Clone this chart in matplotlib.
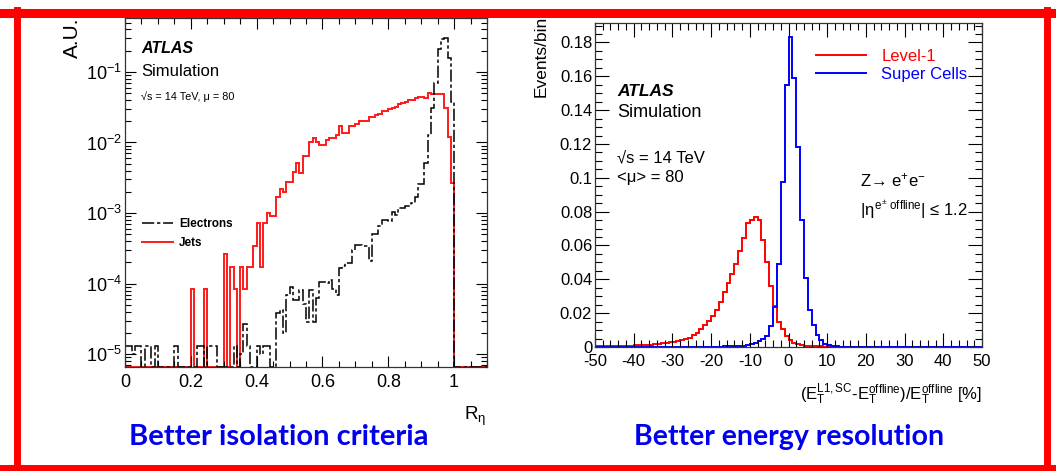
import numpy as np
import matplotlib
matplotlib.use('Agg')
import matplotlib.pyplot as plt
from matplotlib.lines import Line2D
from matplotlib.ticker import MultipleLocator, LogLocator, FuncFormatter, NullFormatter

plt.rcParams['font.family'] = ['Liberation Sans', 'DejaVu Sans']
plt.rcParams['mathtext.fontset'] = 'custom'
plt.rcParams['mathtext.rm'] = 'Liberation Sans'
plt.rcParams['mathtext.it'] = 'Liberation Sans'
plt.rcParams['mathtext.bf'] = 'Liberation Sans:bold'
plt.rcParams['axes.unicode_minus'] = False

# ---- left panel: R_eta, bins of 0.01 from 0 to 1.1 ----
r_edges = np.round(np.arange(0, 1.1001, 0.01), 3)
jets = [
    0, 0, 0, 0, 0, 0, 0, 0, 0, 0,
    0, 0, 0, 0, 0, 0, 0, 0, 0, 0,
    8.5e-5, 0, 0, 0, 8.5e-5, 0, 0, 0, 0, 0,
    2.6e-4, 0, 1.7e-4, 8.5e-5, 0, 1.7e-4, 8.5e-5, 1.7e-4, 1.7e-4, 3.4e-4,
    7.2e-4, 1.7e-4, 7.2e-4, 1.0e-3, 9.1e-4, 9.1e-4, 1.7e-3, 2.2e-3, 2.0e-3, 2.8e-3,
    2.8e-3, 3.8e-3, 5.1e-3, 3.7e-3, 6.5e-3, 6.5e-3, 1.02e-2, 1.17e-2, 1.02e-2, 9.1e-3,
    9.1e-3, 1.07e-2, 1.17e-2, 1.17e-2, 1.29e-2, 1.7e-2, 1.38e-2, 1.38e-2, 1.7e-2, 1.7e-2,
    1.82e-2, 2.04e-2, 2.04e-2, 2.04e-2, 2.29e-2, 2.29e-2, 2.45e-2, 2.57e-2, 2.82e-2, 2.82e-2,
    2.95e-2, 3.09e-2, 3.16e-2, 3.47e-2, 3.63e-2, 3.8e-2, 3.98e-2, 3.98e-2, 4.27e-2, 4.37e-2,
    4.47e-2, 4.27e-2, 5.0e-2, 4.8e-2, 4.9e-2, 4.9e-2, 4.8e-2, 3.1e-2, 1.2e-2, 2.7e-3,
    0, 0, 0, 0, 0, 0, 0, 0, 0, 0,
]
electrons = [
    1.3e-5, 1.3e-5, 1.0e-5, 1.3e-5, 1.3e-5, 0, 1.3e-5, 1.3e-5, 0, 1.3e-5,
    0, 0, 0, 0, 0, 1.3e-5, 0, 0, 0, 0,
    0, 0, 1.3e-5, 1.3e-5, 0, 1.3e-5, 1.3e-5, 1.3e-5, 0, 0,
    0, 0, 0, 1.3e-5, 0, 1.0e-5, 2.7e-5, 1.3e-5, 0, 0,
    1.3e-5, 1.0e-5, 1.3e-5, 1.3e-5, 0, 0, 3.8e-5, 4.2e-5, 2.0e-5, 6.9e-5,
    9.1e-5, 5.9e-5, 5.9e-5, 8.1e-5, 5.2e-5, 2.9e-5, 8.1e-5, 2.9e-5, 6.3e-5, 1.07e-4,
    1.07e-4, 1.02e-4, 1.12e-4, 8.5e-5, 6.9e-5, 1.66e-4, 1.78e-4, 1.95e-4, 1.95e-4, 3.0e-4,
    3.5e-4, 3.5e-4, 3.4e-4, 3.4e-4, 2.1e-4, 5.1e-4, 5.1e-4, 6.5e-4, 7.9e-4, 7.9e-4,
    7.6e-4, 1.05e-3, 9.5e-4, 1.17e-3, 1.17e-3, 1.26e-3, 1.26e-3, 1.41e-3, 1.7e-3, 2.6e-3,
    2.6e-3, 5.1e-3, 1.29e-2, 3.1e-2, 6.9e-2, 0.21, 0.295, 0.30, 0.158, 3.8e-2,
    0, 0, 0, 0, 0, 0, 0, 0, 0, 0,
]

# ---- right panel: (E_T - E_T offline)/E_T offline [%], 1% bins ----
e_edges = np.arange(-50, 51, 1)
level1 = [
    0.0003, 0.0003, 0.0004, 0.0004, 0.0005, 0.0005, 0.0006, 0.0007, 0.0008, 0.0008,
    0.0009, 0.0010, 0.0011, 0.0012, 0.0014, 0.0016, 0.0018, 0.0021, 0.0024, 0.0027,
    0.0031, 0.0035, 0.0039, 0.0045, 0.0055, 0.0069, 0.0085, 0.0105, 0.0128, 0.0152,
    0.0181, 0.0221, 0.0266, 0.0325, 0.038, 0.0434, 0.0489, 0.0568, 0.0647, 0.073,
    0.0753, 0.0769, 0.0753, 0.063, 0.050, 0.036, 0.024, 0.015, 0.0105, 0.0065,
    0.004, 0.0025, 0.0016, 0.001, 0.0007, 0.0005, 0.0004, 0.0003, 0.0003, 0.0002,
    0.0002, 0.00015, 0.0001, 0.0001, 0.0001, 0.0001, 0.0001, 0.0001, 0.0001, 0.0001,
    0.00005, 0.00005, 0.00005, 0.00005, 0.00005, 0.00005, 0.00005, 0.00005, 0.00005, 0.00005,
    0.00005, 0.00005, 0.00005, 0.00005, 0.00005, 0.00005, 0.00005, 0.00005, 0.00005, 0.00005,
    0.00005, 0.00005, 0.00005, 0.00005, 0.00005, 0.00005, 0.00005, 0.00005, 0.00005, 0.00005,
]
super_cells = [
    0, 0, 0, 0, 0, 0, 0, 0, 0, 0,
    0, 0, 0, 0, 0, 0.00005, 0.00005, 0.00005, 0.00005, 0.00005,
    0.00005, 0.00005, 0.00005, 0.00005, 0.00005, 0.0001, 0.0001, 0.0001, 0.00015, 0.00015,
    0.0002, 0.0002, 0.00025, 0.0003, 0.0003, 0.0004, 0.0005, 0.0006, 0.0008, 0.0011,
    0.0016, 0.0024, 0.0036, 0.0049, 0.0066, 0.0125, 0.0235, 0.049, 0.0976, 0.155,
    0.183, 0.159, 0.118, 0.075, 0.041, 0.022, 0.0128, 0.0069, 0.0039, 0.002,
    0.001, 0.0005, 0.0003, 0.0002, 0.0001, 0, 0, 0, 0, 0,
    0, 0, 0, 0, 0, 0, 0, 0, 0, 0,
    0, 0, 0, 0, 0, 0, 0, 0, 0, 0,
    0, 0, 0, 0, 0, 0, 0, 0, 0, 0,
]

W, H = 1056, 471
fig = plt.figure(figsize=(W / 100, H / 100), dpi=100)


def px_axes(l, t, r, b):
    return fig.add_axes([l / W, 1 - b / H, (r - l) / W, (b - t) / H])


def root_ticks(ax, major, minor, size):
    ax.tick_params(which='both', direction='in', top=True, right=True, labelsize=size)
    ax.tick_params(which='major', length=major, width=0.8)
    ax.tick_params(which='minor', length=minor, width=0.8)
    for s in ax.spines.values():
        s.set_linewidth(0.9)
        s.set_color('#333333')


fmt_g = FuncFormatter(lambda v, p: '%g' % v)
dash_e = (0, (8, 1.8, 2.2, 1.8))

# left panel
ax1 = px_axes(125, 18, 487, 367)
ymin1 = 6.6e-6
ax1.stairs(np.clip(jets, ymin1, None), r_edges, color='#ff1a1a', lw=1.4, baseline=None)
ax1.stairs(np.clip(electrons, ymin1, None), r_edges, color='black', lw=1.1,
           linestyle=dash_e, baseline=None)
ax1.set_yscale('log')
ax1.set_xlim(0, 1.1)
ax1.set_ylim(ymin1, 0.58)
ax1.xaxis.set_major_locator(MultipleLocator(0.2))
ax1.xaxis.set_minor_locator(MultipleLocator(0.05))
ax1.xaxis.set_major_formatter(fmt_g)
ax1.yaxis.set_minor_locator(LogLocator(base=10, subs=np.arange(2, 10)))
ax1.yaxis.set_minor_formatter(NullFormatter())
root_ticks(ax1, 8, 4, 13)
ax1.tick_params(axis='x', pad=5)
ax1.tick_params(axis='y', pad=2)

ax1.text(0.045, 0.9, 'ATLAS', transform=ax1.transAxes, fontsize=11.5,
         fontweight='bold', fontstyle='italic', va='baseline')
ax1.text(0.045, 0.835, 'Simulation', transform=ax1.transAxes, fontsize=12, va='baseline')
ax1.text(0.045, 0.765, '√s = 14 TeV, μ = 80', transform=ax1.transAxes, fontsize=7.8,
         va='baseline')
h1 = [Line2D([], [], color='black', lw=1.1, linestyle=dash_e),
      Line2D([], [], color='#ff1a1a', lw=1.4)]
ax1.legend(h1, ['Electrons', 'Jets'], loc='upper left', bbox_to_anchor=(0.035, 0.44),
           frameon=False, prop={'weight': 'bold', 'size': 8.5}, handlelength=2.6,
           handletextpad=0.5, labelspacing=0.55, borderaxespad=0)
fig.text(72 / W, 1 - 17 / H, 'A.U.', rotation=90, ha='center', va='top', fontsize=15)
fig.text(486 / W, 1 - 420 / H, r'R$_\eta$', ha='right', va='baseline', fontsize=13.5)

# right panel
ax2 = px_axes(595, 23, 982, 347)
ax2.stairs(level1, e_edges, color='#ff0000', lw=1.4, baseline=None)
ax2.stairs(super_cells, e_edges, color='#0000ff', lw=1.4, baseline=None)
ax2.set_xlim(-50, 50)
ax2.set_ylim(0, 0.1915)
ax2.xaxis.set_major_locator(MultipleLocator(10))
ax2.xaxis.set_minor_locator(MultipleLocator(2))
ax2.yaxis.set_major_locator(MultipleLocator(0.02))
ax2.yaxis.set_minor_locator(MultipleLocator(0.005))
ax2.xaxis.set_major_formatter(fmt_g)
ax2.yaxis.set_major_formatter(fmt_g)
root_ticks(ax2, 10, 5, 12)
ax2.tick_params(axis='x', pad=5)
ax2.tick_params(axis='y', pad=2)

ax2.text(0.057, 0.775, 'ATLAS', transform=ax2.transAxes, fontsize=12.5,
         fontweight='bold', fontstyle='italic', va='baseline')
ax2.text(0.057, 0.71, 'Simulation', transform=ax2.transAxes, fontsize=13, va='baseline')
ax2.text(0.057, 0.57, '√s = 14 TeV', transform=ax2.transAxes, fontsize=12, va='baseline')
ax2.text(0.057, 0.51, '<μ> = 80', transform=ax2.transAxes, fontsize=12, va='baseline')
ax2.text(0.685, 0.495, 'Z→ e$^{+}$e$^{-}$', transform=ax2.transAxes,
         fontsize=12, va='baseline')
ax2.text(0.685, 0.405, r'$|\eta^{e^{\pm}\ offline}|$ ≤ 1.2', transform=ax2.transAxes,
         fontsize=12, va='baseline')
h2 = [Line2D([], [], color='#ff0000', lw=1.4), Line2D([], [], color='#0000ff', lw=1.4)]
ax2.legend(h2, ['Level-1', 'Super Cells'], loc='upper left', bbox_to_anchor=(0.555, 0.94),
           frameon=False, fontsize=12, labelcolor='linecolor', handlelength=3.0,
           handletextpad=0.9, labelspacing=0.15, borderaxespad=0)
fig.text(541 / W, 1 - 16 / H, 'Events/bin', rotation=90, ha='center', va='top', fontsize=12.5)
fig.text(982 / W, 1 - 400 / H,
         r'(E$_T^{L1,SC}$-E$_T^{offline}$)/E$_T^{offline}$ [%]',
         ha='right', va='baseline', fontsize=12)

# captions
fig.text(279 / W, 1 - 437 / H, 'Better isolation criteria', ha='center', va='center',
         fontsize=21, fontweight='bold', color='#0000ee', family='Lato')
fig.text(789 / W, 1 - 437 / H, 'Better energy resolution', ha='center', va='center',
         fontsize=20.5, fontweight='bold', color='#0000ee', family='Lato')

# red slide frame
red = '#ff0000'
fig.add_artist(Line2D([0, 1], [1 - 12.5 / H] * 2, color=red, lw=6.5, transform=fig.transFigure))
fig.add_artist(Line2D([0, 1], [1 - 468 / H] * 2, color=red, lw=5, transform=fig.transFigure))
fig.add_artist(Line2D([16.5 / W] * 2, [0, 1 - 10 / H], color=red, lw=5, transform=fig.transFigure))
fig.add_artist(Line2D([1047 / W] * 2, [0, 1 - 10 / H], color=red, lw=5, transform=fig.transFigure))

fig.savefig('out.png', dpi=100)
